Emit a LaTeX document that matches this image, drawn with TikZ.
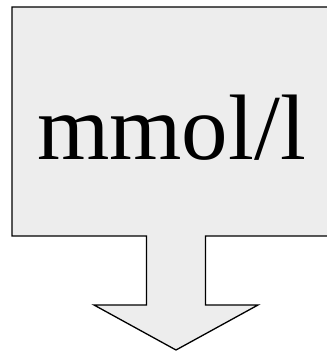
\documentclass[tikz,border=0pt]{standalone}
\usepackage{fontspec}
\setmainfont{Liberation Serif}
\definecolor{calloutfill}{HTML}{EDEDED}
\tikzset{
  callout/.style={draw=black, fill=calloutfill, line width=1.3pt, line join=miter},
  unitlabel/.style={font=\fontsize{93}{93}\selectfont, inner sep=0pt, anchor=base}
}
\begin{document}
\begin{tikzpicture}[x=1pt,y=-1pt]
  \useasboundingbox (0,0) rectangle (327,354);
  \clip (0,0) rectangle (327,354);
  % callout box with a downward arrow
  \draw[callout] (12,7) -- (340,7) -- (340,236) -- (205.5,236) -- (205.5,305)
    -- (258,305) -- (176,350) -- (94,305) -- (146.5,305) -- (146.5,236)
    -- (12,236) -- cycle;
  \node[unitlabel] (unit) at (171.5,159) {mmol/l};
\end{tikzpicture}
\end{document}
